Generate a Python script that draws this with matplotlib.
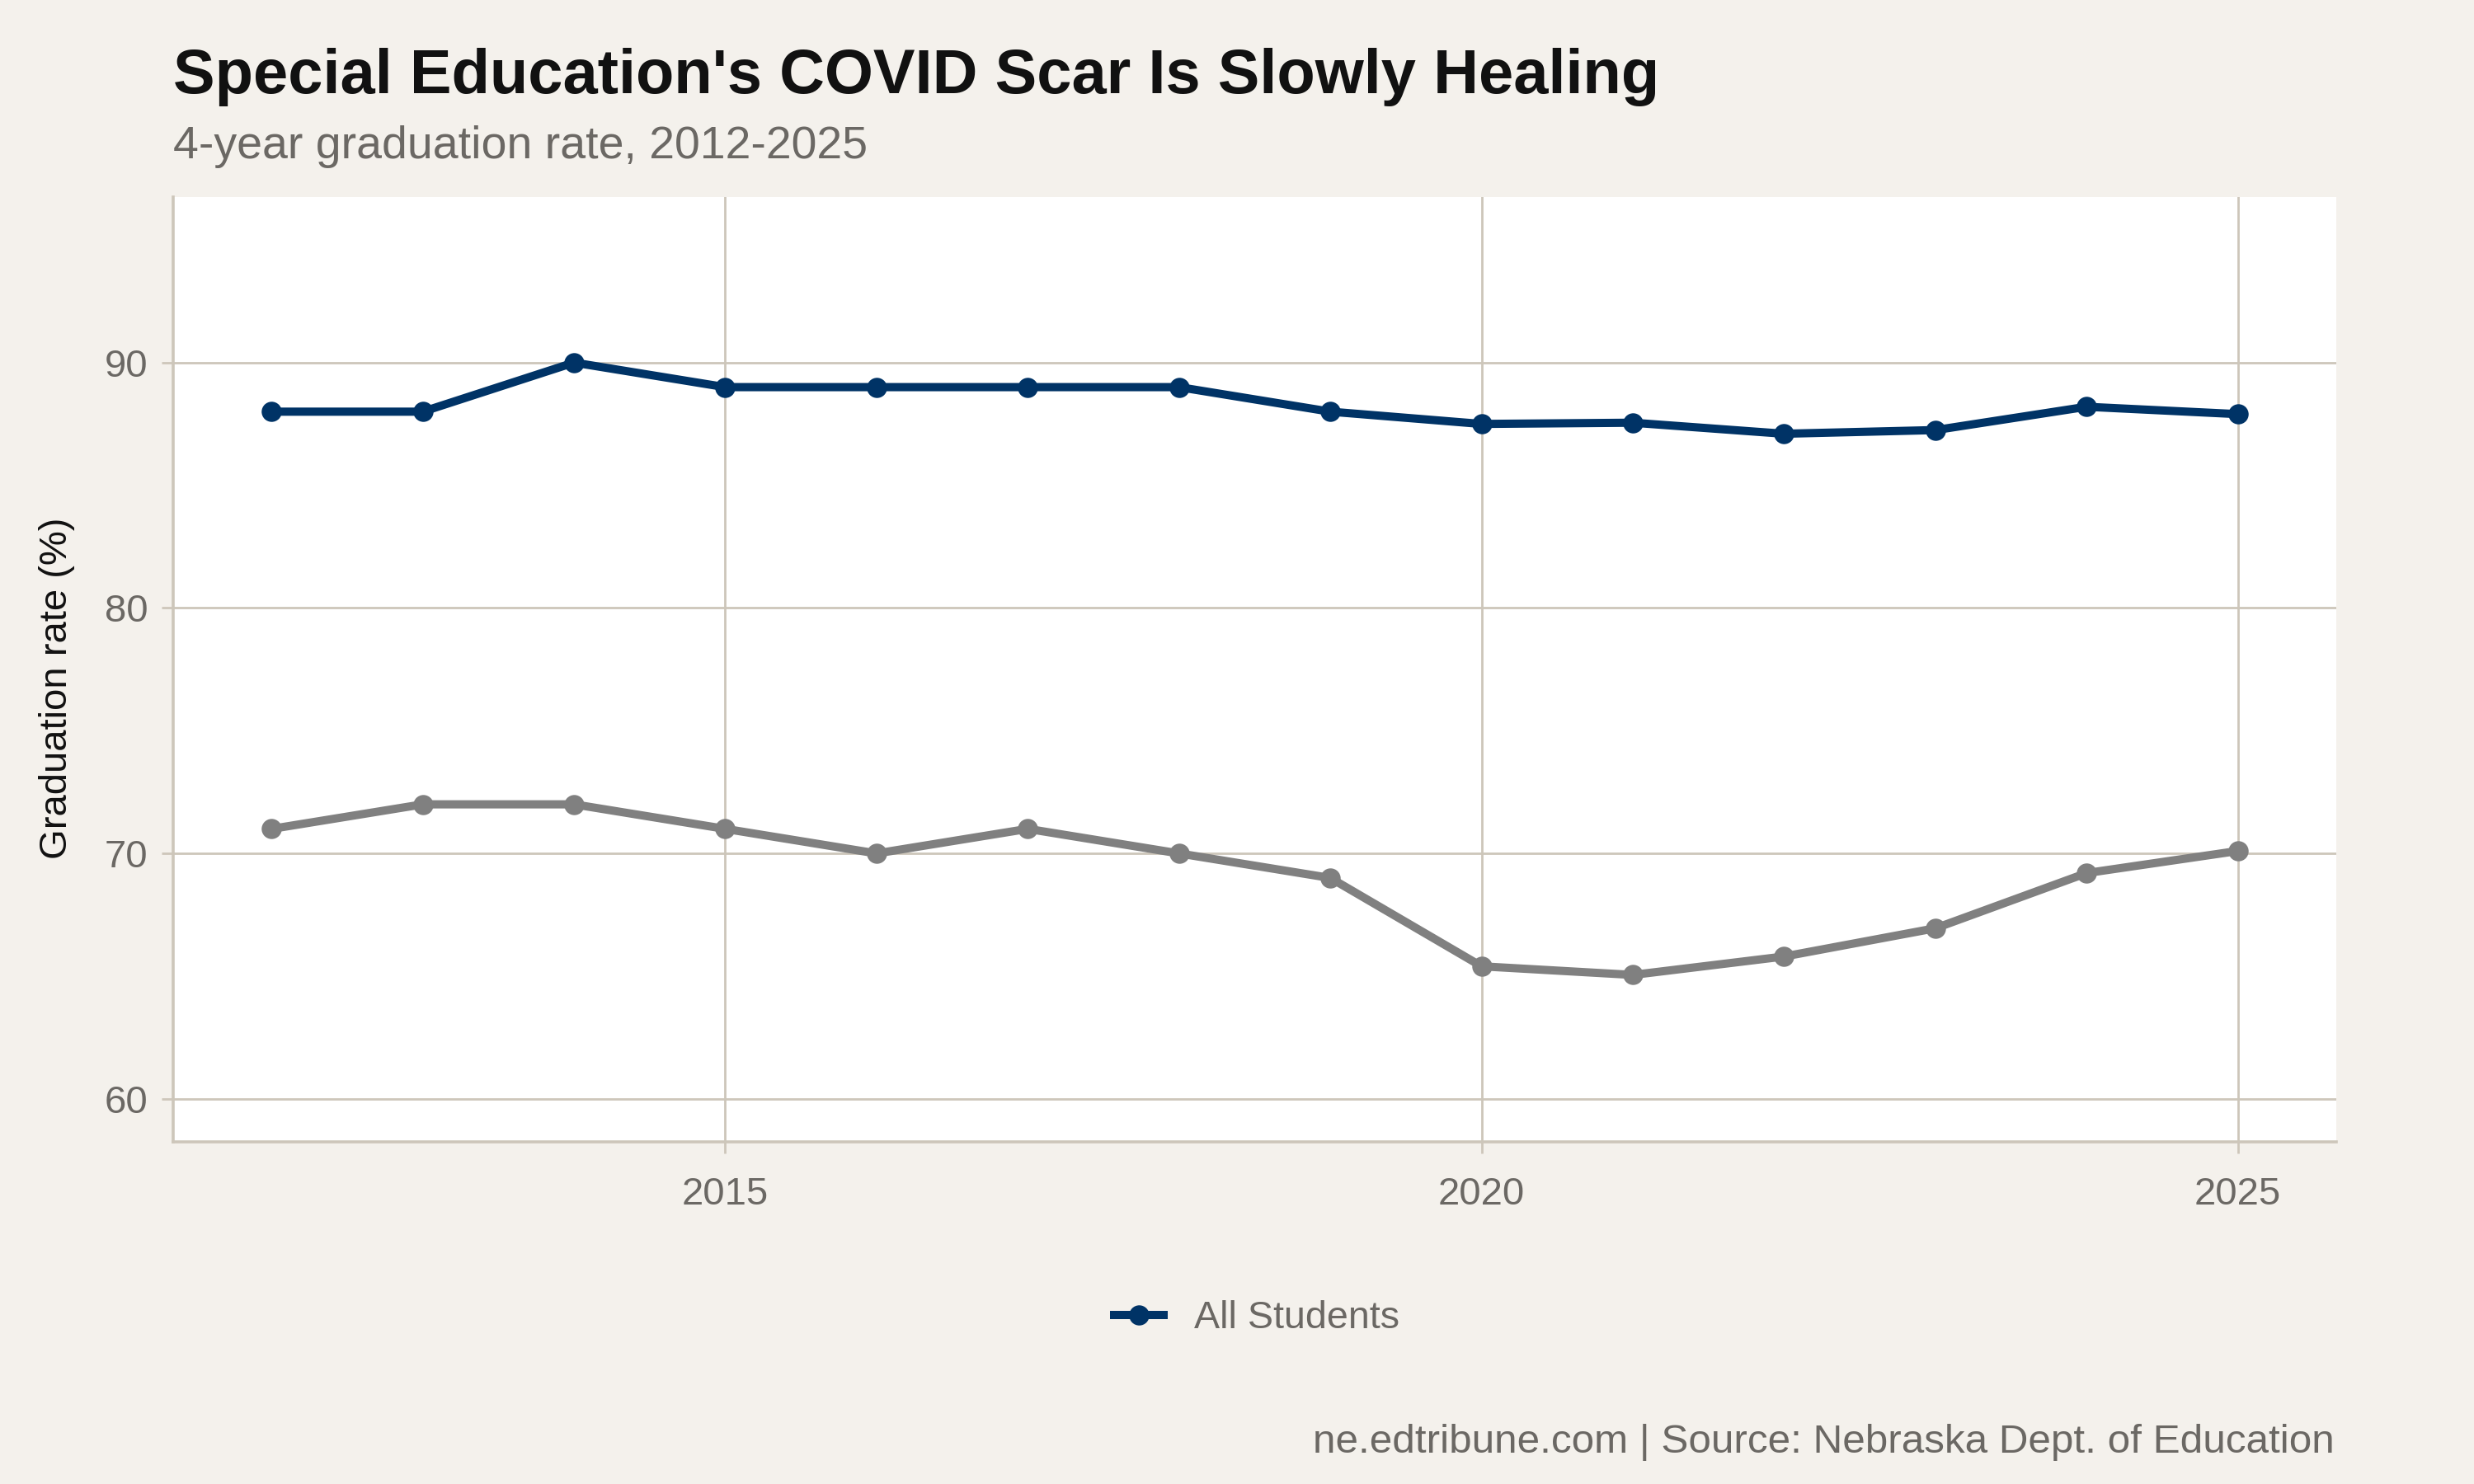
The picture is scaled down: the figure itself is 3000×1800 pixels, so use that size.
import matplotlib
matplotlib.use("Agg")
import matplotlib.pyplot as plt
from matplotlib.lines import Line2D

# -------------------------------------------------
# Data
# -------------------------------------------------
years = [2012, 2013, 2014, 2015, 2016, 2017, 2018, 2019, 2020, 2021, 2022, 2023, 2024, 2025]
all_students = [88.0, 88.0, 90.0, 89.0, 89.0, 89.0, 89.0, 88.0, 87.5, 87.55, 87.1, 87.25, 88.2, 87.9]
special_ed = [71.0, 72.0, 72.0, 71.0, 70.0, 71.0, 70.0, 69.0, 65.4, 65.05, 65.8, 66.95, 69.2, 70.1]
x_ticks = [2015, 2020, 2025]
y_ticks = [60, 70, 80, 90]

title = "Special Education's COVID Scar Is Slowly Healing"
subtitle = "4-year graduation rate, 2012-2025"
y_label = "Graduation rate (%)"
caption = "ne.edtribune.com | Source: Nebraska Dept. of Education"
legend_label = "All Students"

# -------------------------------------------------
# Style
# -------------------------------------------------
bg = "#f4f1ec"
grid_c = "#cdc6ba"
text_c = "#6b6864"
navy = "#003366"
gray = "#808080"
lw = 3.6
ms = 7.8

plt.rcParams["font.family"] = ["Liberation Sans", "DejaVu Sans"]

fig = plt.figure(figsize=(15, 9), dpi=200)
fig.patch.set_facecolor(bg)

# panel position in figure fraction
ax = fig.add_axes([0.070, 0.2306, 0.8743, 0.6367])
ax.set_facecolor("white")

ax.plot(years, special_ed, color=gray, lw=lw, marker="o", ms=ms,
        solid_capstyle="round", zorder=3)
ax.plot(years, all_students, color=navy, lw=lw, marker="o", ms=ms,
        solid_capstyle="round", zorder=4)

ax.set_xlim(2011.35, 2025.65)
ax.set_ylim(58.25, 96.75)
ax.set_xticks(x_ticks)
ax.set_yticks(y_ticks)
ax.grid(True, color=grid_c, lw=1.0, zorder=0)
ax.set_axisbelow(True)

for side in ["top", "right"]:
    ax.spines[side].set_visible(False)
for side in ["left", "bottom"]:
    ax.spines[side].set_color(grid_c)
    ax.spines[side].set_linewidth(1.3)

ax.tick_params(axis="both", colors=grid_c, length=5, width=1.0,
               labelsize=17, labelcolor=text_c, pad=6)
ax.tick_params(axis="x", pad=10)

# -------------------------------------------------
# Texts
# -------------------------------------------------
fig.text(0.070, 0.9372, title, fontsize=27.3, fontweight="bold",
         color="#111111", ha="left", va="baseline")
fig.text(0.070, 0.8933, subtitle, fontsize=20, color=text_c,
         ha="left", va="baseline")
fig.text(0.023, 0.536, y_label, fontsize=17, color="#111111",
         rotation=90, ha="center", va="center")
fig.text(0.9437, 0.0211, caption, fontsize=17.8, color=text_c,
         ha="right", va="baseline")

handle = Line2D([], [], color=navy, lw=lw, marker="o", ms=ms)
fig.legend([handle], [legend_label], loc="center",
           bbox_to_anchor=(0.508, 0.1117), frameon=False,
           fontsize=16.8, labelcolor=text_c, handlelength=1.3,
           handletextpad=0.8)

fig.savefig("out.png", dpi=200, facecolor=bg)
